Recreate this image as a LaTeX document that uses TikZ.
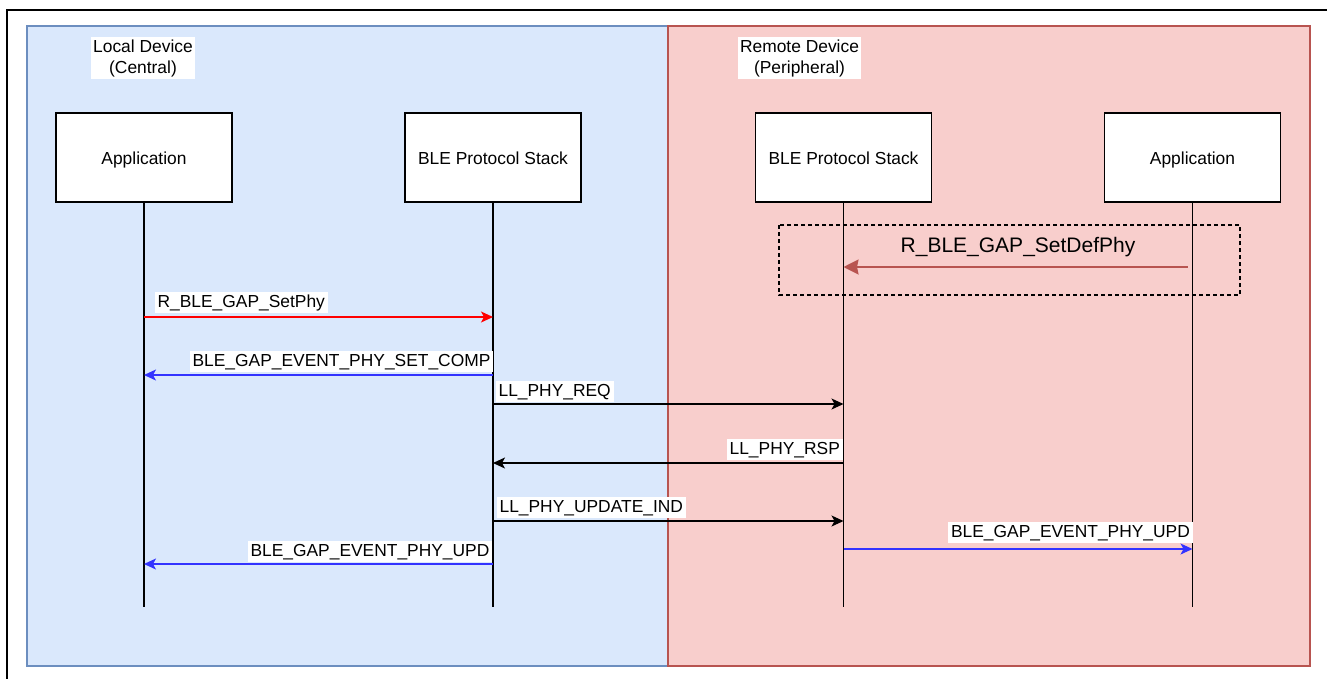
\documentclass[tikz,border=0pt]{standalone}
\usepackage{fontspec}
\setmainfont{Liberation Sans}
\usetikzlibrary{arrows.meta}
\definecolor{localfill}{HTML}{DAE8FC}
\definecolor{localline}{HTML}{6C8EBF}
\definecolor{remotefill}{HTML}{F8CECC}
\definecolor{remoteline}{HTML}{B85450}
\definecolor{evblue}{HTML}{3333FF}
\def\msgfont{\fontsize{17.4}{21}\selectfont}
\def\bigfont{\fontsize{21}{25}\selectfont}
\tikzset{
  entity/.style={draw,fill=white,line width=1.3pt,minimum width=176pt,minimum height=89pt,font=\msgfont,text height=14.5pt,text depth=1.5pt},
  life/.style={line width=1.3pt},
  msg/.style={line width=1.2pt,-{Stealth[length=12pt,width=11pt,inset=3pt]}},
  tag/.style={fill=white,font=\msgfont,inner xsep=3pt,inner ysep=2pt,text height=13pt,text depth=4pt},
  title/.style={fill=white,font=\msgfont,align=center,inner xsep=2pt,inner ysep=2.5pt}
}

\begin{document}
\begin{tikzpicture}[x=1pt,y=-1pt]
  \useasboundingbox (0,0) rectangle (1327,678);
  \clip (0,0) rectangle (1327,678);
  \draw[line width=2pt] (7,10) rectangle (1345,700);
  \begin{scope}[line width=1.3pt]
    \fill[localfill] (27,26) rectangle (668,666);
    \draw[localline] (27,26) rectangle (668,666);
    \fill[remotefill] (668,26) rectangle (1310,666);
    \draw[remoteline] (668,26) rectangle (1310,666);
  \end{scope}
  \node[title] (local) at (143,58) {Local Device\\(Central)};
  \node[title] (remote) at (799.5,58) {Remote Device\\(Peripheral)};

  \node[entity] (appL) at (144,157.5) {Application};
  \node[entity] (stackL) at (493,157.5) {BLE Protocol Stack};
  \node[entity] (stackR) at (843.5,157.5) {BLE Protocol Stack};
  \node[entity] (appR) at (1192.5,157.5) {Application};

  \coordinate (bottom) at (0,607);
  \foreach \p in {appL,stackL,stackR,appR}
    \draw[life] (\p.south) -- (\p |- bottom);

  % message levels
  \coordinate (m0) at (0,267);
  \coordinate (m1) at (0,317);
  \coordinate (m2) at (0,375);
  \coordinate (m3) at (0,404);
  \coordinate (m4) at (0,463);
  \coordinate (m5) at (0,521);
  \coordinate (m6) at (0,549);
  \coordinate (m7) at (0,564);

  \draw[line width=1.3pt,dash pattern=on 4pt off 3pt] (779,225) rectangle (1240,295);
  \draw[remoteline,line width=2pt,-{Stealth[length=15pt,width=15pt,inset=1.5pt]},shorten <=5pt]
    (appR |- m0) -- node[font=\bigfont,text=black,yshift=20pt] (setdef) {R\_BLE\_GAP\_SetDefPhy} (stackR |- m0);

  \draw[msg,red] (appL |- m1) -- (stackL |- m1)
    node[tag,at start,anchor=south west,xshift=10pt,yshift=3pt,text=black] (setphy) {R\_BLE\_GAP\_SetPhy};
  \draw[msg,evblue] (stackL |- m2) -- (appL |- m2)
    node[tag,at start,anchor=south east,xshift=1pt,yshift=2pt,text=black] (setcomp) {BLE\_GAP\_EVENT\_PHY\_SET\_COMP};
  \draw[msg] (stackL |- m3) -- (stackR |- m3)
    node[tag,at start,anchor=south west,xshift=2pt,yshift=1pt] (req) {LL\_PHY\_REQ};
  \draw[msg] (stackR |- m4) -- (stackL |- m4)
    node[tag,at start,anchor=south east,yshift=2pt] (rsp) {LL\_PHY\_RSP};
  \draw[msg] (stackL |- m5) -- (stackR |- m5)
    node[tag,at start,anchor=south west,xshift=3pt,yshift=2pt] (updind) {LL\_PHY\_UPDATE\_IND};
  \draw[msg,evblue] (stackR |- m6) -- (appR |- m6)
    node[tag,at end,anchor=south east,xshift=1pt,yshift=5pt,text=black] (updR) {BLE\_GAP\_EVENT\_PHY\_UPD};
  \draw[msg,evblue] (stackL |- m7) -- (appL |- m7)
    node[tag,at start,anchor=south east,yshift=1pt,text=black] (updL) {BLE\_GAP\_EVENT\_PHY\_UPD};
\end{tikzpicture}
\end{document}
